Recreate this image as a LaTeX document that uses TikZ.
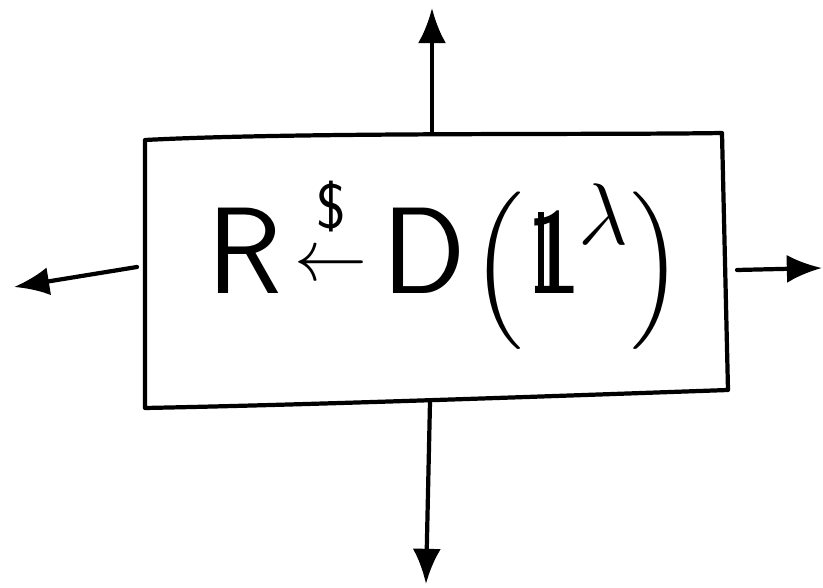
\documentclass[tikz,border=0pt]{standalone}
\usepackage{amsmath}
\usepackage{graphicx}
\usetikzlibrary{arrows.meta}
\newcommand{\dsone}{\textsf{1}\kern-0.36em\rule{0.05em}{0.66em}\kern0.28em}
\begin{document}
\begin{tikzpicture}[x=0.01cm,y=-0.01cm,
  pen/.style={line width=1.2pt,line cap=round,line join=round},
  arr/.style={pen,-{Latex[length=10pt,width=8pt]}}]
\useasboundingbox (0,0) rectangle (823,588);
\draw[pen] (145,140) .. controls (300,132) and (600,135) .. (722,133)
  -- (728,390) .. controls (500,398) and (300,405) .. (145,408) -- cycle;
\coordinate (bt) at (432,132);
\coordinate (bb) at (430,402);
\coordinate (bl) at (137,267);
\coordinate (br) at (737,270);
\coordinate (up) at (432,8);
\coordinate (dn) at (426,584);
\coordinate (lf) at (14,287);
\coordinate (rt) at (822,268);
\draw[arr] (bt) -- (up);
\draw[arr] (bb) -- (dn);
\draw[arr] (bl) -- (lf);
\draw[arr] (br) -- (rt);
\node[inner sep=0pt] (t) at (445,262) {\fontsize{35}{35}\selectfont\sffamily R\hspace{0.1em}\raisebox{0.1em}{\fontsize{22}{22}\selectfont$\overset{\raisebox{3pt}{\fontsize{18}{18}\selectfont\$}}{\leftarrow}$}\hspace{0.12em}D\hspace{0.05em}$\Bigl(\text{\dsone}^{\lambda}\Bigr)$};
\end{tikzpicture}
\end{document}
